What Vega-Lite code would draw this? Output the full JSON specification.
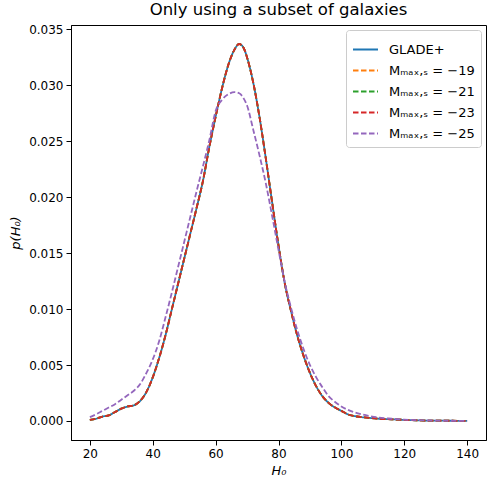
{
  "$schema": "https://vega.github.io/schema/vega-lite/v6.json",
  "width": 415,
  "height": 415,
  "autosize": {"type": "none"},
  "padding": {"left": 71, "top": 25, "right": 1, "bottom": 39},
  "background": "white",
  "title": {"text": "Only using a subset of galaxies", "fontSize": 16.5, "fontWeight": "normal", "font": "DejaVu Sans", "color": "black", "offset": 5},
  "config": {
    "view": {"stroke": "black", "strokeWidth": 1},
    "font": "DejaVu Sans",
    "axis": {"grid": false, "domainColor": "black", "tickColor": "black", "labelColor": "black", "titleColor": "black", "labelFontSize": 12, "titleFontSize": 13, "titleFontWeight": "normal", "tickSize": 5, "labelPadding": 3, "labelFont": "DejaVu Sans", "titleFont": "DejaVu Sans"},
    "legend": {"labelFont": "DejaVu Sans", "labelFontSize": 13, "labelColor": "black"}
  },
  "data": {
    "values": [
      {"H": 20, "g": 0.0001, "m25": 0.00035},
      {"H": 22, "g": 0.0002, "m25": 0.0006},
      {"H": 24, "g": 0.0004, "m25": 0.0009},
      {"H": 26, "g": 0.0005, "m25": 0.0012},
      {"H": 28, "g": 0.0008, "m25": 0.0015},
      {"H": 30, "g": 0.0011, "m25": 0.0019},
      {"H": 32, "g": 0.0013, "m25": 0.0023},
      {"H": 34, "g": 0.0014, "m25": 0.0027},
      {"H": 36, "g": 0.0018, "m25": 0.0033},
      {"H": 38, "g": 0.0026, "m25": 0.0043},
      {"H": 40, "g": 0.0039, "m25": 0.0055},
      {"H": 42, "g": 0.0056, "m25": 0.0071},
      {"H": 44, "g": 0.0076, "m25": 0.0092},
      {"H": 46, "g": 0.0099, "m25": 0.0114},
      {"H": 48, "g": 0.0122, "m25": 0.0137},
      {"H": 50, "g": 0.0145, "m25": 0.016},
      {"H": 52, "g": 0.0168, "m25": 0.0183},
      {"H": 54, "g": 0.0191, "m25": 0.0206},
      {"H": 56, "g": 0.0215, "m25": 0.0228},
      {"H": 58, "g": 0.0245, "m25": 0.0251},
      {"H": 60, "g": 0.0272, "m25": 0.0277},
      {"H": 62, "g": 0.0297, "m25": 0.0287},
      {"H": 64, "g": 0.0318, "m25": 0.0292},
      {"H": 66, "g": 0.0332, "m25": 0.0294},
      {"H": 67.5, "g": 0.0337, "m25": 0.0293},
      {"H": 69, "g": 0.0333, "m25": 0.0288},
      {"H": 70, "g": 0.0325, "m25": 0.0282},
      {"H": 72, "g": 0.0302, "m25": 0.026},
      {"H": 74, "g": 0.0271, "m25": 0.0237},
      {"H": 76, "g": 0.0234, "m25": 0.0212},
      {"H": 78, "g": 0.0195, "m25": 0.0183},
      {"H": 80, "g": 0.0157, "m25": 0.0153},
      {"H": 82, "g": 0.0123, "m25": 0.0124},
      {"H": 84, "g": 0.0098, "m25": 0.0101},
      {"H": 86, "g": 0.0076, "m25": 0.0081},
      {"H": 88, "g": 0.0058, "m25": 0.0064},
      {"H": 90, "g": 0.0043, "m25": 0.005},
      {"H": 92, "g": 0.0031, "m25": 0.0039},
      {"H": 94, "g": 0.0022, "m25": 0.003},
      {"H": 96, "g": 0.0016, "m25": 0.0022},
      {"H": 98, "g": 0.0012, "m25": 0.0017},
      {"H": 100, "g": 0.0009, "m25": 0.0013},
      {"H": 102, "g": 0.0006, "m25": 0.001},
      {"H": 105, "g": 0.0004, "m25": 0.0007},
      {"H": 108, "g": 0.0003, "m25": 0.0005},
      {"H": 112, "g": 0.0002, "m25": 0.0003},
      {"H": 116, "g": 0.00015, "m25": 0.0002},
      {"H": 120, "g": 0.0001, "m25": 0.00012},
      {"H": 125, "g": 0.00005, "m25": 0.00007},
      {"H": 130, "g": 0.00003, "m25": 0.00004},
      {"H": 135, "g": 0.00002, "m25": 0.00002},
      {"H": 140, "g": 0.00001, "m25": 0.00001}
    ]
  },
  "transform": [
    {"fold": ["g", "m19", "m21", "m23", "m25"], "as": ["key", "dummy"]},
    {"lookup": "key", "from": {"data": {"values": [
      {"key": "g", "series": "GLADE+", "src": "g"},
      {"key": "m19", "series": "Mₘₐₓ,ₛ = −19", "src": "g"},
      {"key": "m21", "series": "Mₘₐₓ,ₛ = −21", "src": "g"},
      {"key": "m23", "series": "Mₘₐₓ,ₛ = −23", "src": "g"},
      {"key": "m25", "series": "Mₘₐₓ,ₛ = −25", "src": "m25"}
    ]}, "key": "key", "fields": ["series", "src"]}},
    {"calculate": "datum[datum.src]", "as": "p"}
  ],
  "mark": {"type": "line", "strokeWidth": 1.8, "interpolate": "monotone"},
  "encoding": {
    "x": {"field": "H", "type": "quantitative", "scale": {"domain": [14, 146], "nice": false, "zero": false},
      "axis": {"values": [20, 40, 60, 80, 100, 120, 140], "title": "H₀", "titleFontStyle": "italic", "titlePadding": 5}},
    "y": {"field": "p", "type": "quantitative", "scale": {"domain": [-0.0017, 0.0354], "nice": false, "zero": false},
      "axis": {"values": [0, 0.005, 0.01, 0.015, 0.02, 0.025, 0.03, 0.035], "format": ".3f", "title": "p(H₀)", "titleFontStyle": "italic", "titlePadding": 6}},
    "color": {"field": "series", "type": "nominal", "sort": null,
      "scale": {"domain": ["GLADE+", "Mₘₐₓ,ₛ = −19", "Mₘₐₓ,ₛ = −21", "Mₘₐₓ,ₛ = −23", "Mₘₐₓ,ₛ = −25"], "range": ["#1f77b4", "#ff7f0e", "#2ca02c", "#d62728", "#9467bd"]},
      "legend": {"title": null, "orient": "top-right", "offset": 5, "symbolType": "stroke", "symbolSize": 625, "symbolStrokeWidth": 1.8, "strokeColor": "#cccccc", "fillColor": "white", "cornerRadius": 3, "padding": 6, "rowPadding": 0, "labelOffset": 10, "labelFontSize": 13}},
    "strokeDash": {"field": "series", "type": "nominal", "sort": null,
      "scale": {"domain": ["GLADE+", "Mₘₐₓ,ₛ = −19", "Mₘₐₓ,ₛ = −21", "Mₘₐₓ,ₛ = −23", "Mₘₐₓ,ₛ = −25"], "range": [[1, 0], [5.5, 2.5], [5.5, 2.5], [5.5, 2.5], [5.5, 2.5]]},
      "legend": {"title": null}},
    "order": {"field": "H", "type": "quantitative"}
  }
}
